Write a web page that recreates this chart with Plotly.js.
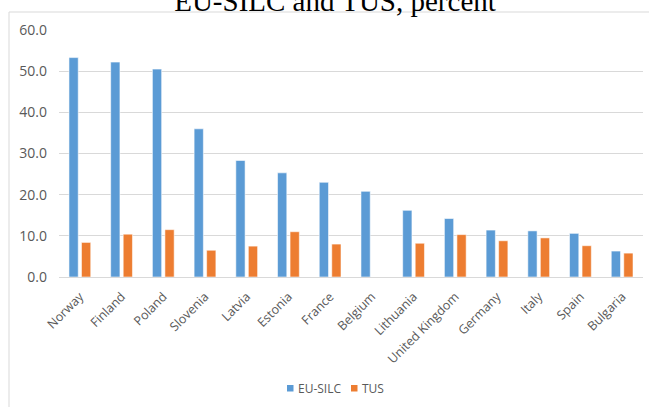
<!DOCTYPE html>
<html>
<head>
<meta charset="utf-8">
<script src="https://cdn.plot.ly/plotly-3.0.1.min.js"></script>
<style>html,body{margin:0;padding:0;background:#fff;}#chart{width:649px;height:407px;}</style>
</head>
<body>
<div id="chart"></div>
<script>
const countries = ["Norway","Finland","Poland","Slovenia","Latvia","Estonia","France","Belgium","Lithuania","United Kingdom","Germany","Italy","Spain","Bulgaria"];
const euSilc = [53.3, 52.2, 50.5, 36.0, 28.3, 25.3, 23.0, 20.8, 16.2, 14.2, 11.4, 11.2, 10.6, 6.3];
const tus = [8.4, 10.4, 11.5, 6.5, 7.5, 11.0, 8.0, null, 8.2, 10.3, 8.8, 9.5, 7.6, 5.8];
const yTicks = [0, 10, 20, 30, 40, 50, 60];
const yTickText = ["0.0","10.0","20.0","30.0","40.0","50.0","60.0"];
const seriesNames = ["EU-SILC", "TUS"];
const seriesColors = ["#5B9BD5", "#ED7D31"];

const W = 649, H = 407;
const L = 59, R = 6, T = 30, B = 130;
const pw = W - L - R, ph = H - T - B;
const px2x = p => (p - L) / pw;
const py2y = p => (T + ph - p) / ph;

const traces = [
  {type:'bar', name:seriesNames[0], x:countries, y:euSilc,
   marker:{color:seriesColors[0], line:{color:'rgba(255,255,255,0.55)', width:1}}},
  {type:'bar', name:seriesNames[1], x:countries, y:tus,
   marker:{color:seriesColors[1], line:{color:'rgba(255,255,255,0.55)', width:1}}}
];

// custom compact legend (Excel style)
const legendY = 388;
const legendItems = [{sq:287, tx:297}, {sq:351, tx:361}];
const shapes = [
  {type:'rect', xref:'paper', yref:'paper', x0:px2x(9), x1:px2x(W+2), y0:py2y(H+5), y1:py2y(12),
   line:{color:'#d9d9d9', width:1}, fillcolor:'rgba(0,0,0,0)', layer:'below'}
];
const annotations = [];
legendItems.forEach((it, i) => {
  shapes.push({type:'rect', xref:'paper', yref:'paper', x0:px2x(it.sq), x1:px2x(it.sq+6.5),
    y0:py2y(legendY+3.5), y1:py2y(legendY-3), line:{width:0}, fillcolor:seriesColors[i]});
  annotations.push({xref:'paper', yref:'paper', x:px2x(it.tx), y:py2y(legendY), xanchor:'left', yanchor:'middle',
    text:seriesNames[i], showarrow:false, font:{size:12, color:'#595959'}, borderpad:0});
});

const layout = {
  width: W, height: H,
  margin: {l:L, r:R, t:T, b:B, pad:0},
  paper_bgcolor:'#fff', plot_bgcolor:'#fff',
  barmode:'group', bargap:0.4, bargroupgap:0.26,
  font:{family:'"Open Sans", sans-serif', color:'#595959', size:12},
  title:{text:'EU-SILC and TUS, percent', font:{family:'"Liberation Serif", "Times New Roman", serif', size:29, color:'#000'},
         x:(173+497)/2/W, xanchor:'center', xref:'container', yref:'container', y:1-11/H, yanchor:'bottom'},
  xaxis:{type:'category', tickangle:-45, showgrid:false, showline:false, zeroline:false, ticks:'',
         ticklabelstandoff:9, tickfont:{size:12.5, color:'#595959'}, automargin:false, fixedrange:true},
  yaxis:{range:[0,60], tickvals:yTicks, ticktext:yTickText, showgrid:true, gridcolor:'#d9d9d9', gridwidth:1,
         zeroline:true, zerolinecolor:'#d9d9d9', zerolinewidth:1, showline:false, ticks:'',
         ticklabelstandoff:11, tickfont:{size:14, color:'#595959'}, automargin:false, fixedrange:true},
  showlegend:false,
  shapes: shapes,
  annotations: annotations
};

Plotly.newPlot('chart', traces, layout, {displayModeBar:false, staticPlot:true});
</script>
</body>
</html>
